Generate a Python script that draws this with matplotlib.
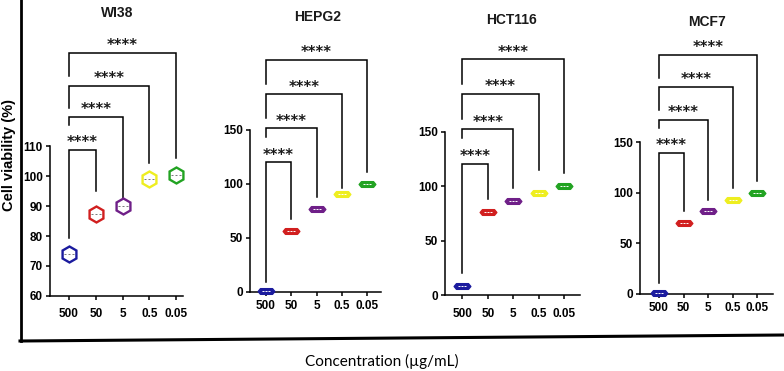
import matplotlib
matplotlib.use("Agg")
import matplotlib.pyplot as plt
from matplotlib.lines import Line2D
from matplotlib.path import Path
import numpy as np

# ---- data ----
concentrations = ['500', '50', '5', '0.5', '0.05']
cell_lines = ['WI38', 'HEPG2', 'HCT116', 'MCF7']
wi38 = [74.0, 87.3, 90.0, 98.9, 100.4]
hepg2 = [0.8, 56.5, 77.2, 90.7, 100.0]
hct116 = [8.6, 76.6, 86.4, 93.5, 100.2]
mcf7 = [0.7, 70.5, 81.7, 92.9, 100.0]
viability = [wi38, hepg2, hct116, mcf7]
stars = '****'
colors = ['#1b1b9e', '#d11f1f', '#6f1f88', '#eeee20', '#22a322']

W, H = 784, 371
plt.rcParams['font.family'] = ['Liberation Sans Narrow', 'Liberation Sans', 'DejaVu Sans']

fig = plt.figure(figsize=(W / 100, H / 100), dpi=100)


def px(x, y):
    return x / W, 1 - y / H


# layout in pixels: y-axis x, x-axis right end, x-axis y, first tick x, tick step,
# px per unit, y range of the spine, title centre, x label pad
layout = [
    dict(x0=50, x1=183, yb=296, t0=69, dt=26.75, ppu=3.0, ylo=60, yhi=110, step=10,
         title=(117, 13), pad=5.5, wide=False),
    dict(x0=250, x1=381, yb=292, t0=266, dt=25.25, ppu=1.08, ylo=0, yhi=150, step=50,
         title=(318, 17), pad=2.5, wide=True),
    dict(x0=445, x1=580, yb=295, t0=462.3, dt=25.5, ppu=1.088, ylo=0, yhi=150, step=50,
         title=(512, 20), pad=6, wide=True),
    dict(x0=640, x1=773, yb=294, t0=659, dt=24.6, ppu=1.012, ylo=0, yhi=150, step=50,
         title=(707, 22), pad=2.5, wide=True),
]

# bracket heights (data units), right leg ends, first left leg end
brackets = [
    ([108.7, 119.6, 130.0, 141.1], [95.1, 92.6, 104.2, 105.9], 79.3),
    ([120.0, 151.5, 183.0, 214.8], [68.0, 88.0, 96.0, 111.0], 9.6),
    ([120.4, 152.3, 184.5, 216.6], [88.0, 98.0, 115.0, 112.0], 20.0),
    ([139.6, 172.0, 204.3, 236.2], [82.3, 92.9, 104.4, 111.7], 10.6),
]
leg_frac = [None, 0.75, 0.3, 0.3]

hexflat = Path([(-1, 0), (-0.72, 0.34), (0.72, 0.34), (1, 0), (0.72, -0.34), (-0.72, -0.34), (-1, 0)],
               [Path.MOVETO] + [Path.LINETO] * 5 + [Path.CLOSEPOLY])
dashes = Path([(-0.9, 0), (-0.5, 0), (-0.2, 0), (0.2, 0), (0.5, 0), (0.9, 0)],
              [Path.MOVETO, Path.LINETO] * 3)

for name, vals, lay, (levels, right_ends, first_leg) in zip(cell_lines, viability, layout, brackets):
    top = 30
    l, b = px(lay['x0'], lay['yb'])
    ax = fig.add_axes([l, b, (lay['x1'] - lay['x0']) / W, (lay['yb'] - top) / H])
    ax.set_xlim((lay['x0'] - lay['t0']) / lay['dt'], (lay['x1'] - lay['t0']) / lay['dt'])
    ax.set_ylim(lay['ylo'], lay['ylo'] + (lay['yb'] - top) / lay['ppu'])
    x = np.arange(len(concentrations))

    for xi, v, c in zip(x, vals, colors):
        if lay['wide']:
            ax.plot(xi, v, marker=hexflat, ms=12, mfc=c, mec=c, mew=1.0,
                    clip_on=False, zorder=5)
            ax.plot(xi, v, marker=dashes, ms=6, mec='white', mew=0.7,
                    clip_on=False, zorder=6)
        else:
            ax.plot(xi, v, marker='h', ms=11.5, mfc='white', mec=c, mew=1.7,
                    clip_on=False, zorder=5)
            ax.plot(xi, v, marker=dashes, ms=7, mec='#777777', mew=0.7,
                    clip_on=False, zorder=6)

    for i, (lev, rend) in enumerate(zip(levels, right_ends)):
        j = i + 1
        if i == 0:
            lbot = first_leg
        else:
            lbot = levels[i - 1] + leg_frac[i] * (lev - levels[i - 1])
        ax.plot([0, 0, j, j], [lbot, lev, lev, rend], color='black', lw=1.1,
                solid_joinstyle='miter', clip_on=False)
        ax.annotate(stars, xy=(j / 2, lev), xytext=(0, 2), textcoords='offset points',
                    ha='center', va='baseline', fontsize=10.5, fontweight='bold',
                    family='DejaVu Sans', color='#1a1a1a')

    ax.set_xticks(x)
    ax.set_xticklabels(concentrations)
    ax.set_yticks(np.arange(lay['ylo'], lay['yhi'] + 1, lay['step']))
    ax.spines['top'].set_visible(False)
    ax.spines['right'].set_visible(False)
    ax.spines['left'].set_bounds(lay['ylo'], lay['yhi'])
    for s in ['left', 'bottom']:
        ax.spines[s].set_linewidth(1.1)
    ax.tick_params(axis='both', length=3.2, width=1.1, labelsize=8.5)
    ax.tick_params(axis='x', pad=lay['pad'])
    ax.tick_params(axis='y', pad=2)
    for t in ax.get_xticklabels() + ax.get_yticklabels():
        t.set_fontweight('bold')
    ax.patch.set_alpha(0)

    tx, ty = px(*lay['title'])
    fig.text(tx, ty, name, ha='center', va='center', fontsize=10, fontweight='bold',
             family='Liberation Sans', color='#1a1a1a')

# outer frame
fig.add_artist(Line2D([21 / W, 21 / W], [1, 1 - 341 / H], color='black', lw=2.0,
                      transform=fig.transFigure))
fig.add_artist(Line2D([20 / W, 1], [1 - 341 / H, 1 - 335 / H], color='black', lw=2.2,
                      transform=fig.transFigure))

yx, yy = px(9, 155)
fig.text(yx, yy, 'Cell viability (%)', rotation=90, ha='center', va='center',
         fontsize=10.5, fontweight='bold', family='Liberation Sans')
cx, cy = px(382, 361)
fig.text(cx, cy, 'Concentration (\u00b5g/mL)', ha='center', va='center',
         fontsize=11, family='Lato')

fig.savefig('out.png', dpi=100)
